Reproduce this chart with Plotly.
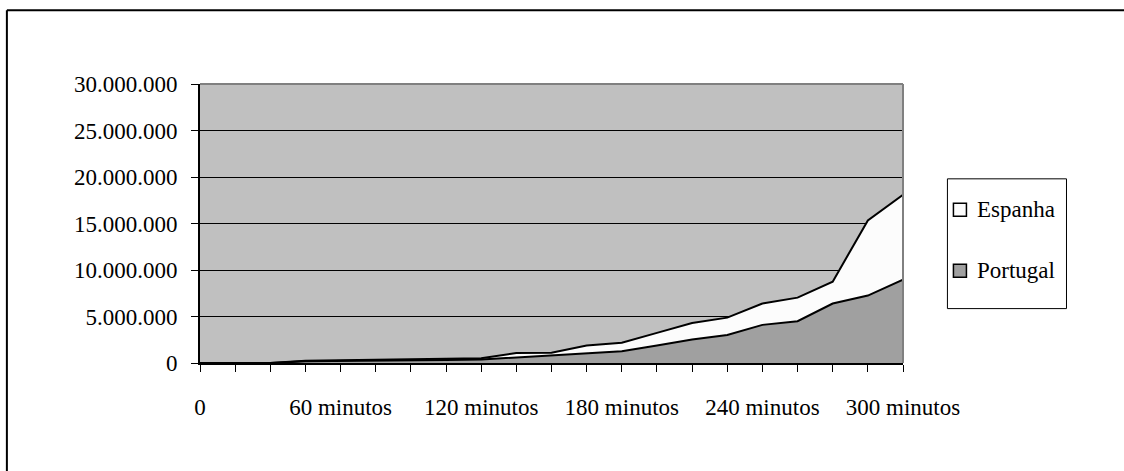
import plotly.graph_objects as go

# Minutes since start, one sample every 15 minutes
minutes = list(range(0, 301, 15))
tick_text = ["0" if m == 0 else (f"{m} minutos" if m % 60 == 0 else "") for m in minutes]

# Cumulative counts per country
portugal = [0, 0, 0, 180000, 200000, 200000, 300000, 320000, 380000, 600000, 800000,
            1020000, 1270000, 1880000, 2520000, 3020000, 4100000, 4490000, 6390000,
            7250000, 8960000]
espanha = [0, 0, 0, 70000, 100000, 100000, 130000, 130000, 120000, 470000, 300000,
           860000, 900000, 1360000, 1790000, 1860000, 2290000, 2540000, 2360000,
           8080000, 9130000]

series = [("Espanha", "#FCFCFC"), ("Portugal", "#A0A0A0")]

FONT = "Liberation Serif, Times New Roman, serif"
FS = 23

fig = go.Figure()

fig.add_trace(go.Scatter(
    x=minutes, y=portugal, name="Portugal", stackgroup="s", mode="lines",
    line=dict(color="black", width=2), fillcolor="#A0A0A0", showlegend=False,
))
fig.add_trace(go.Scatter(
    x=minutes, y=espanha, name="Espanha", stackgroup="s", mode="lines",
    line=dict(color="black", width=2), fillcolor="#FCFCFC", showlegend=False,
))

W, H = 1124, 471
L, R, T, B = 200, 902.6, 84, 363.5

def px(x):
    return (x - L) / (R - L)

def py(y):
    return (B - y) / (B - T)

shapes = [
    # top and right edges of the plot area
    dict(type="line", xref="paper", yref="paper", x0=0, x1=1, y0=1, y1=1,
         line=dict(color="#808080", width=2)),
    dict(type="line", xref="paper", yref="paper", x0=1, x1=1, y0=0, y1=1,
         line=dict(color="#808080", width=2)),
    # outer chart frame (left and top edges)
    dict(type="line", xref="paper", yref="paper",
         x0=px(7), x1=px(1140), y0=py(10), y1=py(10),
         line=dict(color="black", width=2)),
    dict(type="line", xref="paper", yref="paper",
         x0=px(7), x1=px(7), y0=py(10), y1=py(480),
         line=dict(color="black", width=2)),
    # legend box
    dict(type="rect", xref="paper", yref="paper",
         x0=px(947), x1=px(1066), y0=py(179), y1=py(309),
         line=dict(color="black", width=1), fillcolor="white"),
]
annotations = []

# legend entries: swatch + label
for (name, col), yc in zip(series, [210, 271]):
    shapes.append(dict(
        type="rect", xref="paper", yref="paper",
        x0=px(953), x1=px(966), y0=py(yc + 6.5), y1=py(yc - 6.5),
        line=dict(color="black", width=1.5), fillcolor=col,
    ))
    annotations.append(dict(
        xref="paper", yref="paper", x=px(975), y=py(yc), xanchor="left", yanchor="middle",
        text=name, showarrow=False, font=dict(family=FONT, size=FS, color="black"),
    ))

fig.update_layout(
    width=W, height=H,
    margin=dict(l=L, r=W - R, t=T, b=H - B, pad=0),
    paper_bgcolor="white", plot_bgcolor="#C0C0C0",
    separators=",.",
    font=dict(family=FONT, size=FS, color="black"),
    showlegend=False,
    xaxis=dict(
        range=[0, 300], tickmode="array", tickvals=minutes, ticktext=tick_text,
        showgrid=False, zeroline=False, showline=True, linecolor="black", linewidth=2,
        ticks="outside", ticklen=7, tickcolor="black", tickwidth=1,
        ticklabelstandoff=15, tickangle=0,
    ),
    yaxis=dict(
        range=[0, 30000000], dtick=5000000, tickformat=",d",
        showgrid=True, gridcolor="black", gridwidth=1,
        zeroline=False, showline=True, linecolor="black", linewidth=2,
        ticks="outside", ticklen=7, tickcolor="black", tickwidth=1,
        ticklabelstandoff=9,
    ),
    shapes=shapes,
    annotations=annotations,
)

fig.write_html(
    "out.html",
    config={"displayModeBar": False},
    post_script="document.documentElement.style.overflow='hidden';"
                "document.body.style.margin='0';document.body.style.overflow='hidden';",
)
